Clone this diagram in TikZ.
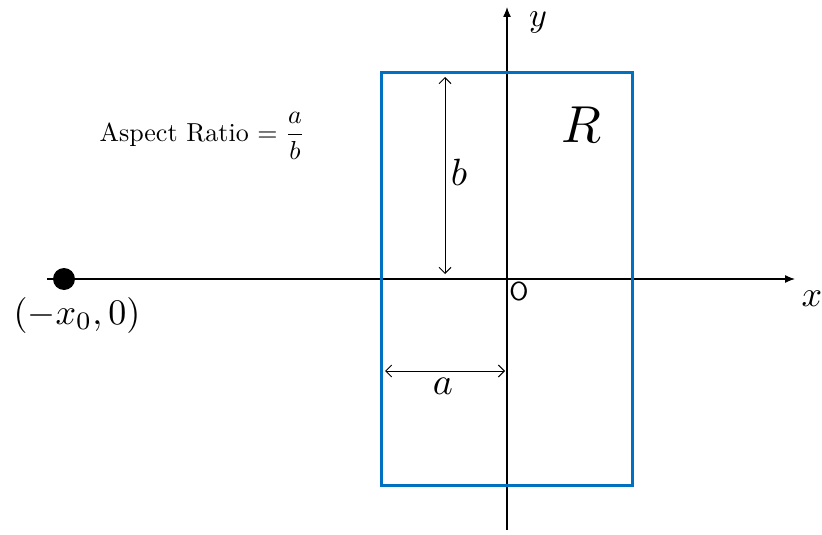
\documentclass[tikz,border=0pt]{standalone}
\usepackage{amsmath}
\usetikzlibrary{arrows.meta, positioning}
\definecolor{rblue}{RGB}{0, 112, 192}

\begin{document}
\begin{tikzpicture}[
    x=1pt, y=-1pt,
    axis/.style={line width=1.3pt, -{Latex[length=10pt, width=8pt]}},
    dimline/.style={line width=1pt, {Straight Barb[length=6pt, width=12pt]}-{Straight Barb[length=6pt, width=12pt]}},
    region/.style={draw=rblue, line width=3pt, inner sep=0pt, minimum width=251pt, minimum height=412pt},
    biglabel/.style={scale=3.6, transform shape, inner sep=0pt},
    dimlabel/.style={scale=3.8, transform shape, inner sep=0pt},
]
    \useasboundingbox (0,0) rectangle (822,535);

    % axes
    \coordinate (origin) at (507,279);
    \coordinate (xstart) at (47,279);
    \coordinate (xend) at (795,279);
    \coordinate (ystart) at (507,530);
    \coordinate (yend) at (507,7);
    \draw[axis] (xstart) -- (xend);
    \draw[axis] (ystart) -- (yend);
    \node[biglabel] (xlab) at (812,299) {$x$};
    \node[scale=3.4, transform shape, inner sep=0pt] (ylab) at (538,22) {$y$};
    \node[font=\sffamily, scale=2.6, transform shape, inner sep=0pt] (olab) at (519,291) {O};

    % region R
    \node[region] (rect) at (origin) {};
    \node[scale=5.2, transform shape, inner sep=0pt] (rlab) at (581,125) {$R$};

    % source point
    \node[circle, fill=black, minimum size=22pt, inner sep=0pt] (src) at (64,279) {};
    \node[biglabel] (srclab) at (77,315) {$(-x_0,0)$};

    % dimensions
    \coordinate (btop) at (445,77);
    \coordinate (bbot) at (445,274);
    \draw[dimline] (btop) -- (bbot);
    \node[dimlabel] (blab) at (459,172) {$b$};
    \coordinate (aleft) at (385,371);
    \coordinate (aright) at (505,371);
    \draw[dimline] (aleft) -- (aright);
    \node[dimlabel] (alab) at (443,386) {$a$};

    % aspect ratio
    \node[scale=2.6, transform shape, inner sep=0pt, anchor=west] (ratio) at (99,136) {Aspect Ratio $=\dfrac{a}{b}$};
\end{tikzpicture}
\end{document}
